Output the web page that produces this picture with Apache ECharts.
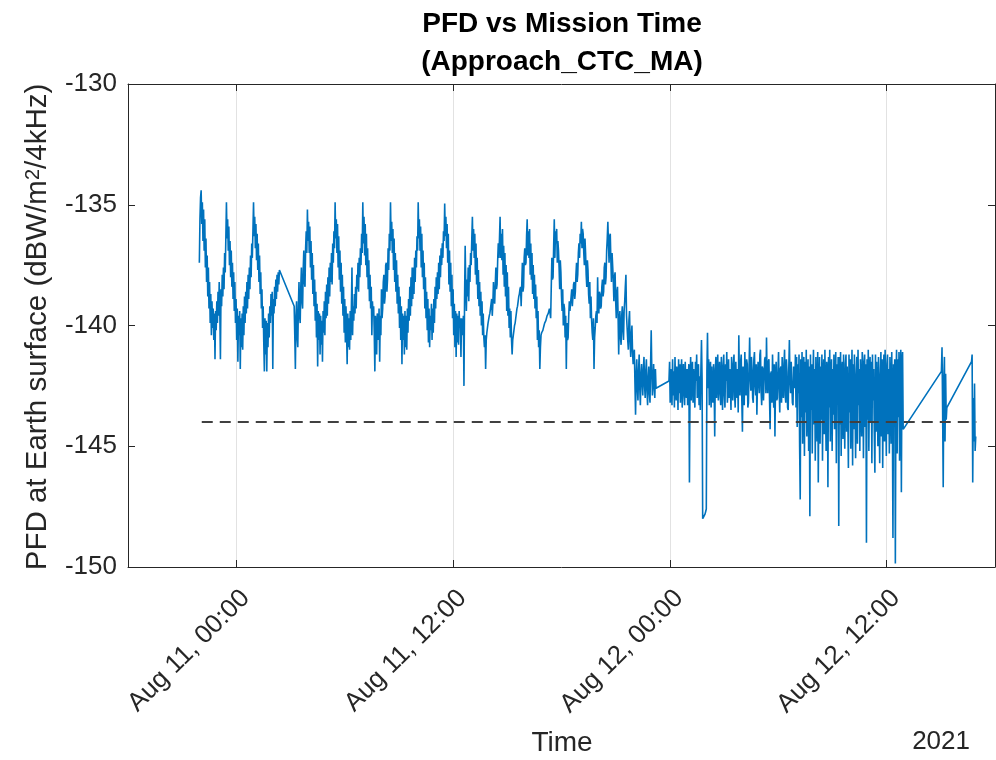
<!DOCTYPE html>
<html><head><meta charset="utf-8">
<script src="https://cdn.jsdelivr.net/npm/echarts@6/dist/echarts.min.js"></script>
<style>html,body{margin:0;padding:0;background:#fff}#c{width:996px;height:760px}</style>
</head><body><div id="c"></div>
<script>
// ---- data (times in minutes from 2021-08-11 00:00 UTC) ----
const BASE_UTC = Date.UTC(2021, 7, 11, 0, 0);
const axisStartMin = -360;   // Aug 10 18:00
const axisEndMin = 2520;     // Aug 12 18:00
const xTickMin = [0, 720, 1440, 2160];   // Aug 11 00:00, 12:00, Aug 12 00:00, 12:00
const yMin = -150, yMax = -130, yStep = 5;
const threshold = -144;
const thresholdSpanMin = [-115, 2458];
const monthNames = ['Jan','Feb','Mar','Apr','May','Jun','Jul','Aug','Sep','Oct','Nov','Dec'];

// segment 1 (before first data gap), 2-minute samples
const seg1Start = -123, seg1Step = 2;
const seg1Pfd = [
-137.4,-135.6,-134.7,-134.4,-135.8,-134.9,-136.5,-135.2,-136.9,-135.6,
-137.6,-136.4,-138.2,-137.1,-138.8,-137.6,-139.3,-138.2,-139.9,-138.7,
-140.4,-139.0,-140.1,-139.3,-140.6,-139.5,-141.4,-139.4,-140.2,-139.0,
-139.9,-138.6,-139.6,-138.2,-139.4,-141.4,-138.5,-139.2,-137.9,-138.8,
-137.6,-138.5,-137.0,-137.8,-136.4,
-134.9,
-136.4,-135.6,-136.9,-135.9,
-137.5,-136.5,-138.0,-136.9,-138.4,-137.4,-138.9,-137.8,-139.4,-138.2,
-139.9,-138.9,-140.6,-139.3,-141.5,-139.6,-140.4,-139.4,-141.8,-139.7,
-140.9,-139.5,-141.0,-139.2,-140.4,-138.8,-139.9,-138.6,-139.5,-138.2,
-139.3,-137.9,-138.9,-137.6,-138.5,-137.1,-138.0,-136.6,-137.2,-136.1,
-134.9,
-136.3,-135.5,-136.8,-135.8,-137.3,-136.2,-137.7,-136.6,-138.2,
-137.1,-138.7,-137.8,-139.3,-138.5,-140.1,-139.2,-140.7,-141.9,-139.7,
-141.2,-139.8,-141.9,-139.9,-140.9,-139.5,-140.5,-139.2,-139.9,-138.7,
-139.6,-138.6,-141.8,-138.9,-139.5,-138.4,-139.2,-138.1,-138.9,-137.9,
-138.6,-137.8,-138.3,-137.7];

// segment 2 (orbital cycles and drop), 2-minute samples
const seg2Start = 192, seg2Step = 2;
const seg2Pfd = [
-139.2,-140.4,-141.8,-139.6,-139.0,-140.5,-140.9,-139.2,-138.2,-139.6,
-139.9,-138.4,-137.6,-139.0,-139.3,-137.7,-136.9,-138.2,-138.4,-136.8,
-136.1,-137.0,
-135.2,
-136.5,-135.7,-137.0,-135.9,-137.6,-136.5,-138.1,-137.0,-138.7,-137.5,
-139.2,-138.1,-139.8,-138.6,-140.5,-139.1,-141.7,-139.4,-140.6,-139.5,
-141.2,-139.6,-140.8,-139.8,-141.5,-139.4,-140.3,-139.0,-140.4,-138.6,
-139.7,-138.3,-139.6,-138.0,-139.1,-137.6,-138.8,-137.4,-138.2,-137.0,
-138.3,-136.6,-137.4,-136.1,-136.8,
-134.9,
-136.4,-135.6,-137.0,-135.8,-137.6,-136.3,-138.1,-136.9,-138.6,-137.4,
-139.1,-137.9,-139.6,-138.4,-140.3,-138.9,-140.7,-139.2,-140.2,-141.6,
-139.5,-140.9,-139.7,-141.0,-139.4,-140.6,-139.3,-137.6,-140.4,-139.2,
-139.8,-138.7,-139.5,-138.4,-139.3,-137.9,-138.5,-137.4,-138.6,-137.2,
-138.0,-136.8,-137.5,-136.2,-137.0,
-134.9,
-136.6,-135.5,-137.1,-135.8,-137.5,-136.2,-138.0,-136.8,-138.5,-137.3,
-139.0,-137.9,-139.3,-138.4,-140.4,-139.0,-139.6,-139.2,-140.3,-141.9,
-139.6,-140.1,-141.2,-139.5,-139.8,-140.6,-139.3,-141.5,-139.6,-140.4,
-138.5,-139.7,-139.3,-138.2,-137.9,-139.1,-138.8,-137.5,-137.4,-138.6,
-138.1,-136.8,-137.7,-136.2,-136.9,
-134.9,
-136.5,-135.7,-137.0,-136.0,-137.7,-136.4,-138.2,-137.0,-138.6,-137.3,
-139.1,-137.9,-139.5,-138.4,-140.1,-138.8,-140.6,-139.2,-141.6,-139.5,
-140.6,-139.6,-141.2,-139.4,-140.9,-139.6,-141.0,-139.3,-140.3,-138.9,
-139.8,-138.4,-139.6,-138.0,-139.2,-137.6,-138.9,-137.6,-138.7,-137.2,
-138.2,-136.9,-137.6,-136.3,-136.9,
-134.9,
-136.4,-135.6,-136.9,-135.9,-137.6,-136.2,-138.0,-136.9,-138.5,-137.4,
-139.3,-138.0,-139.7,-138.6,-140.2,-138.9,-140.7,-139.3,-140.9,-139.6,
-140.2,-139.1,-140.6,-139.3,-140.3,-138.9,-139.9,-138.4,-139.3,-138.0,
-138.9,-137.8,-138.7,-137.4,-138.5,-137.1,-138.0,-136.8,-137.5,-136.6,
-137.2,-136.1,-136.5,
-134.95,
-136.3,-135.5,-136.8,-135.8,-137.4,-136.2,-138.3,-136.9,-138.6,-137.4,
-139.2,-137.9,-139.7,-138.5,-140.4,-139.1,-140.9,-139.4,-141.3,-139.5,
-140.7,-139.6,-140.8,-139.4,-140.1,-139.7,-141.3,-139.7,-139.9,-140.4,
-139.6,-142.5,-138.9,-136.7,-138.4,-139.4,-138.1,-138.8,-137.6,-139.0,
-137.5,-138.2,-137.0,-137.5,-136.4,
-135.5,
-136.9,-136.0,-137.2,-136.2,-137.9,-136.6,-138.3,-137.2,-138.9,-137.7,
-139.2,-138.2,-139.6,-138.6,-140.0,-139.0,-140.4,-139.5,-140.5,-140.9,
-140.4,-141.8,-140.6,-140.3,-140.1,-139.9,-139.9,-139.6,-139.5,-139.3,
-139.1,-138.9,-139.6,-139.1,-138.2,-138.9,-139.1,-138.3,-137.6,-138.5,
-138.3,-137.3,-136.6,-137.2,-136.4,
-135.5,
-137.2,-136.2,-137.3,-136.0,-137.9,-136.7,-138.4,-137.0,-138.8,-137.5,
-139.4,-137.8,-139.6,-138.4,-140.1,-139.3,-140.5,-139.4,-140.6,-141.2,
-140.6,-140.4,-140.2,-140.0,-139.9,-139.7,-139.5,-139.3,-139.2,-139.0,
-138.8,-138.7,-138.5,-138.4,-139.2,-138.3,-137.4,-138.6,-138.4,-137.2,
-136.8,-137.5,-137.4,-136.3,
-135.6,
-137.1,-136.1,-137.2,-136.0,-137.9,-136.6,-138.1,-137.0,-138.7,-137.5,
-138.9,-137.9,-139.3,-138.3,-139.7,-138.8,-140.6,-139.4,-140.9,-140.2,
-141.8,-140.9,-140.4,-140.3,-140.3,-140.2,-140.1,-140.0,-139.9,-139.9,
-139.8,-139.7,-139.6,-139.6,-139.5,-139.4,-139.3,-139.5,-139.7,-138.4,
-137.2,-138.1,-138.0,-136.7,
-135.6,
-137.2,-136.1,-136.6,-136.0,-137.4,-136.5,-136.9,-137.6,-138.5,-137.3,
-137.8,-138.8,-139.4,-138.5,-140.0,-139.1,-139.3,-140.5,-139.6,-141.8,
-139.9,-140.6,-140.5,-139.6,-139.0,-139.4,-139.1,-138.8,-138.5,-139.2,
-138.8,-138.3,-138.2,-138.9,-138.6,-137.9,-137.4,-138.2,-137.9,-137.0,
-136.6,-137.2,-136.2,-136.6,
-135.7,
-136.8,-136.0,-136.2,-137.0,-137.5,-136.4,-137.0,-137.9,-138.4,-137.3,
-137.7,-138.7,-139.1,-138.2,-139.7,-138.8,-139.8,-140.3,-140.6,-139.7,
-141.8,-140.5,-140.1,-139.6,-139.4,-139.9,-138.0,-139.4,-139.5,-138.6,
-138.7,-139.3,-139.2,-138.4,-138.1,-138.8,-138.6,-137.6,-137.4,-138.3,
-138.0,-136.9,-136.4,
-135.7,
-136.6,-137.4,-136.3,-136.2,-137.3,-138.2,-137.0,-137.0,-138.1,-139.0,
-138.0,-137.8,-139.0,-139.7,-138.6,-138.4,-139.6,-141.2,-139.8,-139.4,
-140.5,-140.8,-139.6,-139.2,-140.2,-140.6,-139.4,-139.0,-138.4,-137.9,
-139.6,-140.1,-140.6,-141.0,-139.8,-139.4,-140.7,-141.3,-140.4,-140.0,
-141.1,-141.6,-141.2,-141.0,-142.4,-143.7,-142.1,-141.4,-142.6,-143.1,
-141.9,-141.2,-142.6,-143.3,-142.0,-141.6,-142.4,-142.9,-141.8,-141.3,
-142.5,-143.0,-141.9,-141.4,-142.7,-143.3,-142.2,-141.7,-142.8,-143.2,
-141.6,-140.2,-141.9,-142.9,-142.4,-141.6,-142.5,-143.0,-141.8,-142.6];

// segment 3 (lower regime), 2-minute samples
const seg3Start = 1437, seg3Step = 2;
const seg3Pfd = [
-142.3,-141.5,-143.2,-141.8,-142.6,-143.3,-141.4,-142.9,-141.9,-143.4,
-141.3,-142.5,-143.1,-141.7,-142.2,-143.5,-141.4,-142.8,-141.6,-143.2,
-142.0,-141.4,-143.4,-142.1,-141.6,-142.9,-143.3,-141.5,-142.4,-143.0,
-141.8,-143.3,-142.2,-141.6,-146.5,-142.4,-141.3,-143.1,-142.0,-141.5,
-143.2,-141.8,-142.7,-143.4,-141.5,-142.3,-141.2,-143.0,-142.5,-141.6,
-143.3,-142.1,-143.5,-141.9,-140.6,-142.2,-148.0,-147.95,-147.9,-147.85,
-147.8,-147.7,-147.6,-141.9,-140.3,-142.6,-141.4,-143.3,-142.0,-141.5,
-143.4,-141.7,-142.9,-143.2,-141.6,-142.4,-144.6,-141.8,-141.3,-143.0,
-142.1,-141.2,-143.1,-142.4,-141.5,-142.8,-143.3,-141.3,-142.2,-143.5,
-141.7,-141.2,-142.9,-143.4,-141.6,-142.3,-141.1,-143.2,-142.6,-141.4,
-143.0,-141.8,-142.5,-143.5,-141.3,-142.1,-143.1,-141.6,-141.2,-142.9,
-143.4,-141.5,-142.4,-143.0,-141.8,-143.6,-140.4,-142.3,-142.9,-141.5,
-141.2,-143.1,-144.4,-141.7,-142.0,-143.3,-141.1,-142.6,-142.9,-141.4,
-141.6,-143.4,-143.2,-141.8,-140.5,-142.1,-142.7,-141.3,-141.8,-143.0,
-143.2,-141.4,-141.1,-142.5,-142.9,-141.6,-143.7,-142.4,-141.5,-142.3,
-142.8,-141.2,-141.0,-142.7,-143.3,-141.7,-141.8,-143.1,-142.2,-141.4,
-141.3,-142.8,-140.5,-142.2,-142.8,-141.5,-141.4,-143.0,-144.3,-142.0,
-141.9,-143.2,-141.2,-142.4,-143.4,-141.6,-144.6,-142.3,-141.5,-143.1,
-143.0,-141.9,-141.1,-142.6,-143.6,-141.8,-141.7,-143.2,-141.3,-142.5,
-143.0,-141.6,-141.0,-142.9,-143.2,-141.4,-141.9,-143.4,-143.5,-141.8,
-140.6,-142.3,-142.8,-141.5,-141.5,-143.2,-143.3,-141.7,-141.9,-142.6,
-141.2,-143.4,
-141.3,-144.2,-141.6,-142.8,-141.2,-145.0,-147.2,-141.4,-143.8,-141.1,
-144.9,-142.0,-141.3,-145.4,-141.5,-143.6,-141.0,-144.6,-142.3,-141.4,
-145.2,-141.7,-147.9,-141.2,-143.5,-141.6,-145.3,-142.4,-141.0,-144.1,
-141.8,-145.6,-141.3,-142.9,-144.8,-141.1,-146.5,-142.6,-141.3,-144.9,
-141.7,-143.9,-141.2,-145.6,-142.1,-141.4,-144.5,-141.0,-143.4,-145.2,
-141.5,-141.8,-146.7,-141.3,-143.4,-141.0,-144.8,-142.2,-141.4,-145.2,
-141.8,-143.7,-141.2,-144.3,-142.6,-141.1,-145.7,-141.6,-142.9,-141.3,
-148.3,-141.3,-144.1,-141.1,-145.4,-142.0,-141.5,-144.7,-141.2,-143.3,
-145.1,-141.6,-141.2,-144.4,-141.7,-143.6,-145.9,-141.2,-143.6,-141.4,
-145.1,-142.4,-141.0,-145.8,-141.6,-144.3,-141.2,-143.1,-145.5,-142.1,
-141.3,-144.9,-141.0,-143.3,-141.8,-145.2,-141.4,-142.6,-144.6,-141.1,
-141.5,-145.5,-142.0,-141.2,-144.2,-141.6,-149.0,-141.4,-143.9,-141.0,
-145.2,-142.0,-141.3,-144.0,-141.5,-145.7,-141.2,-143.1,-141.8,-144.4,
-146.1,-141.2,-144.4,-141.5,-142.7,-145.0,-141.3,-143.6,-145.7,-142.0,
-141.1,-144.6,-141.4,-145.9,-142.2,-141.2,-144.8,-141.0,-143.2,-145.4,
-141.6,-141.2,-144.5,-141.8,-145.3,-141.3,-142.6,-144.9,-141.1,-143.5,
-148.8,-141.6,-142.4,-141.4,-149.85,-142.3,-141.0,-145.3,-141.4,-143.8,
-141.1,-145.6,-142.2,-141.0,-146.9,-141.5,-141.1,-144.3];

// segments 4 and 5 (short passes at the end)
const seg4Start = 2342, seg4Step = 2;
const seg4Pfd = [-141.9,-140.9,-143.5,-146.7,-142.2,-141.3,-144.8,-142.0,-143.9,-143.4];
const seg5Start = 2442, seg5Step = 2;
const seg5Pfd = [-141.5,-141.2,-146.5,-143.0,-144.8,-142.4,-145.2,-144.6];

// ---- build ----
const segments = [
  [seg1Start, seg1Step, seg1Pfd], [seg2Start, seg2Step, seg2Pfd], [seg3Start, seg3Step, seg3Pfd],
  [seg4Start, seg4Step, seg4Pfd], [seg5Start, seg5Step, seg5Pfd]
];
const pfdData = [];
segments.forEach(([s, st, vals]) => vals.forEach((v, i) => pfdData.push([s + i * st, v])));
const thrData = thresholdSpanMin.map(m => [m, threshold]);

const FONT = '"Liberation Sans", Arial, Helvetica, sans-serif';
const TXT = '#262626';
const chart = echarts.init(document.getElementById('c'), null, {renderer: 'canvas'});

function fmtTime(m) {
  const d = new Date(BASE_UTC + m * 60000);
  const h = d.getUTCHours();
  return monthNames[d.getUTCMonth()] + ' ' + d.getUTCDate() + ', ' + String(h).padStart(2, '0') + ':00';
}

const xCommon = {
  type: 'value', min: axisStartMin, max: axisEndMin,
  axisLine: {show: true, onZero: false, lineStyle: {color: TXT, width: 1}},
  axisTick: {show: true, inside: true, length: 7, customValues: xTickMin, lineStyle: {color: TXT, width: 1}},
};
const yCommon = {
  type: 'value', min: yMin, max: yMax, interval: yStep,
  axisLine: {show: true, onZero: false, lineStyle: {color: TXT, width: 1}},
  axisTick: {show: true, inside: true, length: 7, lineStyle: {color: TXT, width: 1}},
  splitLine: {show: false}
};

chart.setOption({
  animation: false,
  backgroundColor: '#fff',
  grid: {left: 128, right: 1, top: 84, bottom: 193, containLabel: false},
  xAxis: [
    Object.assign({}, xCommon, {
      position: 'bottom',
      splitLine: {show: true, lineStyle: {color: '#e2e2e2', width: 1}},
      axisLabel: {
        show: true, rotate: 45, color: TXT, fontSize: 26, fontFamily: FONT,
        margin: 18, align: 'right', verticalAlign: 'top', customValues: xTickMin,
        hideOverlap: false, formatter: fmtTime
      }
    }),
    Object.assign({}, xCommon, {
      position: 'top', splitLine: {show: false}, axisLabel: {show: false}
    })
  ],
  yAxis: [
    Object.assign({}, yCommon, {
      position: 'left',
      axisLabel: {show: true, color: TXT, fontSize: 26, fontFamily: FONT, margin: 11}
    }),
    Object.assign({}, yCommon, {position: 'right', axisLabel: {show: false}})
  ],
  series: [
    {
      type: 'line', xAxisIndex: 0, yAxisIndex: 0, data: pfdData,
      showSymbol: false, symbol: 'none', silent: true,
      lineStyle: {color: '#0072BD', width: 1.6}, z: 2
    },
    {
      type: 'line', xAxisIndex: 0, yAxisIndex: 0, data: thrData,
      showSymbol: false, symbol: 'none', silent: true,
      lineStyle: {color: '#404040', width: 2, type: [11, 7]}, z: 3
    }
  ],
  graphic: [
    {type: 'text', x: 562, y: 24, silent: true,
      style: {text: 'PFD vs Mission Time', fontSize: 28, fontWeight: 'bold', fontFamily: FONT, fill: '#000',
        align: 'center', verticalAlign: 'middle', textAlign: 'center', textVerticalAlign: 'middle'}},
    {type: 'text', x: 562, y: 62, silent: true,
      style: {text: '(Approach_CTC_MA)', fontSize: 28, fontWeight: 'bold', fontFamily: FONT, fill: '#000',
        align: 'center', verticalAlign: 'middle', textAlign: 'center', textVerticalAlign: 'middle'}},
    {type: 'text', x: 562, y: 743, silent: true,
      style: {text: 'Time', fontSize: 28, fontFamily: FONT, fill: TXT,
        align: 'center', verticalAlign: 'middle', textAlign: 'center', textVerticalAlign: 'middle'}},
    {type: 'text', x: 970, y: 742, silent: true,
      style: {text: '2021', fontSize: 26, fontFamily: FONT, fill: TXT,
        align: 'right', verticalAlign: 'middle', textAlign: 'right', textVerticalAlign: 'middle'}},
    {type: 'text', x: 38, y: 327, rotation: Math.PI / 2, silent: true,
      style: {text: 'PFD at Earth surface (dBW/m{sup|2}/4kHz)', fontSize: 29.5, fontFamily: FONT, fill: TXT,
        align: 'center', verticalAlign: 'middle', textAlign: 'center', textVerticalAlign: 'middle',
        rich: {sup: {fontSize: 20, fontFamily: FONT, fill: TXT, verticalAlign: 'top', lineHeight: 30}}}}
  ]
});
</script>
</body></html>
